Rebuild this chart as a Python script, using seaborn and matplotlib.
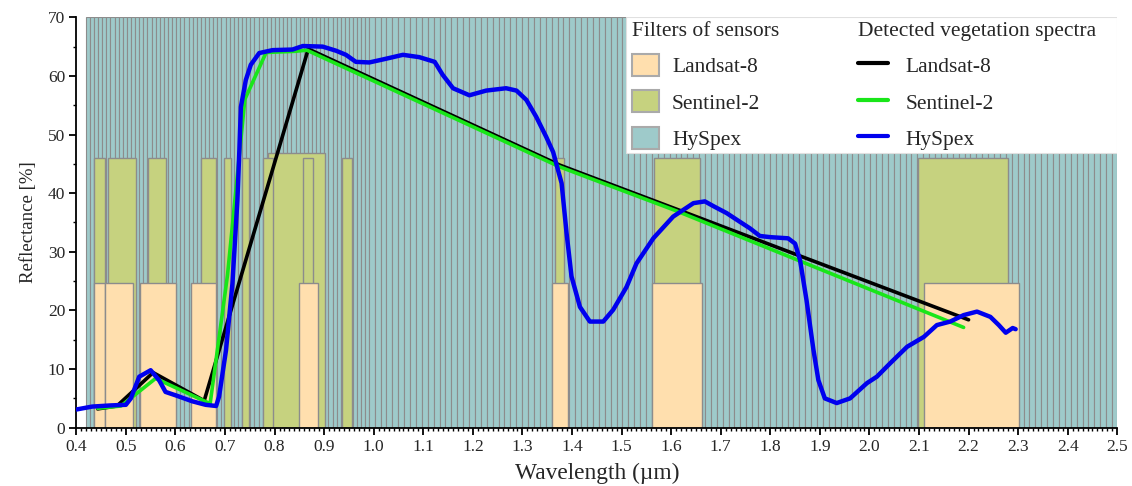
import numpy as np
import matplotlib
matplotlib.use("Agg")
import matplotlib.pyplot as plt
import seaborn as sns
from matplotlib.patches import Patch, Rectangle
from matplotlib.lines import Line2D
from matplotlib.ticker import MultipleLocator, FormatStrFormatter

# ---------------- data: sensor filters (µm) ----------------
landsat_start = [0.436, 0.457, 0.528, 0.632, 0.849, 1.360, 1.562, 2.111]
landsat_end = [0.457, 0.515, 0.601, 0.682, 0.888, 1.391, 1.663, 2.302]
landsat_height = [24.7] * 8

sentinel_start = [0.786, 0.436, 0.463, 0.545, 0.651, 0.698, 0.734, 0.776, 0.857, 0.937, 1.366, 1.566, 2.098]
sentinel_end = [0.902, 0.457, 0.521, 0.580, 0.682, 0.713, 0.749, 0.796, 0.878, 0.956, 1.384, 1.658, 2.280]
sentinel_height = [46.8, 46.0, 46.0, 46.0, 46.0, 46.0, 46.0, 46.0, 46.0, 46.0, 46.0, 46.0, 46.0]

# HySpex: VNIR and SWIR band grids (start, stop, band width)
hyspex_vnir = (0.419, 0.99, 0.0083)
hyspex_swir = (0.99, 2.5, 0.0119)
hyspex_height = 70

# ---------------- data: detected vegetation spectra ----------------
landsat_wl = [0.443, 0.482, 0.555, 0.658, 0.868, 1.375, 1.610, 2.200]
landsat_refl = [3.2, 3.7, 9.4, 4.6, 64.6, 44.8, 37.3, 18.4]

sentinel_wl = [0.443, 0.490, 0.560, 0.670, 0.705, 0.740, 0.783, 0.842, 0.865, 1.375, 1.610, 2.190]
sentinel_refl = [3.3, 3.7, 8.4, 4.1, 26.0, 56.0, 64.0, 64.2, 64.4, 44.5, 37.0, 17.1]

hyspex_wl = [0.400, 0.432, 0.470, 0.500, 0.510, 0.527, 0.550, 0.567, 0.580, 0.601,
             0.634, 0.661, 0.682, 0.688, 0.702, 0.715, 0.725, 0.729, 0.732, 0.742,
             0.752, 0.769, 0.796, 0.836, 0.857, 0.897, 0.924, 0.944, 0.964, 0.991,
             1.018, 1.059, 1.092, 1.123, 1.139, 1.160, 1.193, 1.227, 1.267, 1.288,
             1.308, 1.328, 1.348, 1.362, 1.379, 1.389, 1.399, 1.416, 1.436, 1.463,
             1.483, 1.510, 1.530, 1.564, 1.604, 1.645, 1.668, 1.685, 1.712, 1.739,
             1.759, 1.779, 1.800, 1.836, 1.850, 1.860, 1.873, 1.887, 1.897, 1.910,
             1.934, 1.961, 1.995, 2.015, 2.042, 2.076, 2.110, 2.136, 2.163, 2.190,
             2.217, 2.244, 2.261, 2.275, 2.289, 2.295]
hyspex_refl = [3.1, 3.6, 3.8, 3.9, 5.0, 8.7, 9.8, 8.1, 6.1, 5.5,
               4.5, 3.9, 3.7, 5.3, 13.2, 24.6, 38.8, 47.4, 54.7, 59.3,
               61.9, 63.9, 64.4, 64.5, 65.1, 65.0, 64.3, 63.6, 62.4, 62.3,
               62.8, 63.6, 63.2, 62.4, 60.2, 57.9, 56.7, 57.5, 57.9, 57.5,
               55.9, 53.0, 49.6, 47.0, 41.7, 33.2, 25.8, 20.6, 18.1, 18.1,
               20.1, 24.0, 28.0, 32.3, 36.0, 38.3, 38.6, 37.8, 36.6, 35.1,
               34.0, 32.7, 32.5, 32.3, 31.4, 28.6, 21.8, 13.3, 8.1, 5.0,
               4.2, 5.0, 7.6, 8.7, 11.0, 13.8, 15.5, 17.5, 18.1, 19.2,
               19.8, 18.9, 17.5, 16.2, 17.0, 16.8]

sensor_names = ["Landsat-8", "Sentinel-2", "HySpex"]

# ---------------- styling ----------------
c_landsat_f = "#ffdfae"
c_sentinel_f = "#c6d27f"
c_hyspex_f = "#9ecaca"
c_edge = "#8c8c8c"
c_landsat_l = "black"
c_sentinel_l = "#19e619"
c_hyspex_l = "#0000ee"

sns.set_style("ticks")
plt.rcParams["font.family"] = ["Liberation Serif", "DejaVu Serif"]

fig = plt.figure(figsize=(11.32, 4.86), dpi=100)
ax = fig.add_axes([0.0674, 0.12, 0.9196, 0.8444])

# HySpex filters
edges = np.concatenate([np.arange(*hyspex_vnir), np.arange(hyspex_swir[0], hyspex_swir[1] - 1e-9, hyspex_swir[2])])
widths = np.diff(np.append(edges, hyspex_swir[1]))
ax.bar(edges, hyspex_height, width=widths, align="edge", color=c_hyspex_f,
       edgecolor=c_edge, linewidth=0.8, zorder=1)

# Sentinel-2 filters
ax.bar(sentinel_start, sentinel_height, width=np.array(sentinel_end) - np.array(sentinel_start),
       align="edge", color=c_sentinel_f, edgecolor=c_edge, linewidth=1.0, zorder=1.1)
# Landsat-8 filters
ax.bar(landsat_start, landsat_height, width=np.array(landsat_end) - np.array(landsat_start),
       align="edge", color=c_landsat_f, edgecolor=c_edge, linewidth=1.0, zorder=1.2)

# spectra
sns.lineplot(x=landsat_wl, y=landsat_refl, color=c_landsat_l, linewidth=2.6, ax=ax,
             sort=False, estimator=None, legend=False, zorder=3)
sns.lineplot(x=sentinel_wl, y=sentinel_refl, color=c_sentinel_l, linewidth=2.6, ax=ax,
             sort=False, estimator=None, legend=False, zorder=3.1)
sns.lineplot(x=hyspex_wl, y=hyspex_refl, color=c_hyspex_l, linewidth=3.2, ax=ax,
             sort=False, estimator=None, legend=False, zorder=3.2)

ax.set_xlim(0.4, 2.5)
ax.set_ylim(0, 70)
ax.xaxis.set_major_locator(MultipleLocator(0.1))
ax.xaxis.set_minor_locator(MultipleLocator(0.01))
ax.xaxis.set_major_formatter(FormatStrFormatter("%.1f"))
ax.yaxis.set_major_locator(MultipleLocator(10))
ax.yaxis.set_minor_locator(MultipleLocator(5))
ax.tick_params(axis="both", which="major", length=5, width=1.3, labelsize=12.5, color="black", pad=3)
ax.tick_params(axis="both", which="minor", length=2.5, width=1.0, color="black")
for s in ["top", "right"]:
    ax.spines[s].set_visible(False)
for s in ["left", "bottom"]:
    ax.spines[s].set_linewidth(1.3)
    ax.spines[s].set_color("black")
ax.set_xlabel("Wavelength (µm)", fontsize=16.8, labelpad=6)
ax.set_ylabel("Reflectance [%]", fontsize=13.5, labelpad=8)

# legend background box
ax.add_patch(Rectangle((0.528, 0.669), 0.472, 0.331, transform=ax.transAxes,
                       facecolor="white", edgecolor="#e0e0e0", linewidth=0.8, zorder=5))

patch_handles = [Patch(facecolor=c, edgecolor="#aaaaaa", linewidth=1.5)
                 for c in [c_landsat_f, c_sentinel_f, c_hyspex_f]]
line_handles = [Line2D([], [], color=c, linewidth=3) for c in [c_landsat_l, c_sentinel_l, c_hyspex_l]]

leg_kw = dict(frameon=False, fontsize=15.5, title_fontsize=15.5, loc="upper left",
              borderpad=0.0, borderaxespad=0.0, labelspacing=0.6, alignment="left")
leg1 = ax.legend(patch_handles, sensor_names, title="Filters of sensors",
                 bbox_to_anchor=(0.534, 0.988), handlelength=1.25, handleheight=1.2,
                 handletextpad=0.6, **leg_kw)
leg1.set_zorder(6)
ax.add_artist(leg1)
leg2 = ax.legend(line_handles, sensor_names, title="Detected vegetation spectra",
                 bbox_to_anchor=(0.751, 0.988), handlelength=1.4, handleheight=1.2,
                 handletextpad=0.8, **leg_kw)
leg2.set_zorder(6)

fig.savefig("out.png", dpi=100)
